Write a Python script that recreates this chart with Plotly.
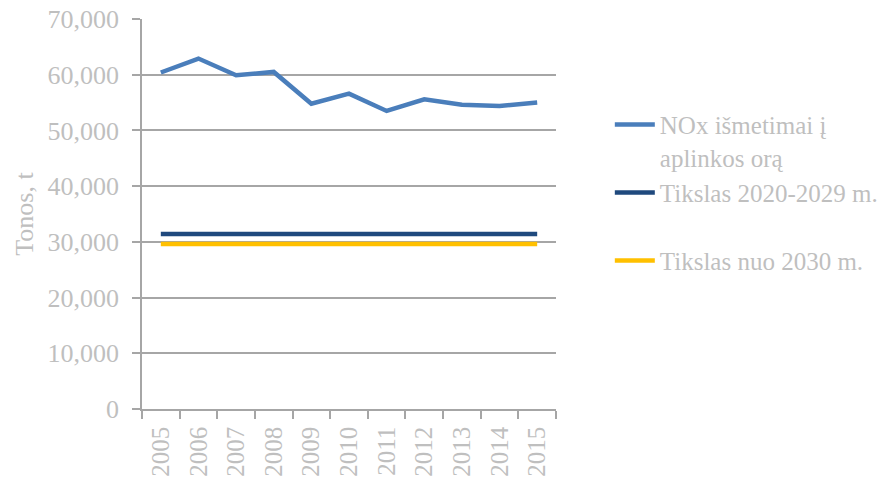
import plotly.graph_objects as go

years = ["2005", "2006", "2007", "2008", "2009", "2010", "2011", "2012", "2013", "2014", "2015"]
nox = [60400, 62900, 59900, 60500, 54800, 56600, 53500, 55600, 54600, 54400, 55000]
target_2020 = [31400] * len(years)
target_2030 = [29600] * len(years)
names = ["NOx išmetimai į<br>aplinkos orą", "Tikslas 2020-2029 m.<br> ", "Tikslas nuo 2030 m.<br> "]

FONT = "Liberation Serif, Times New Roman, serif"
GRAY = "#bfbfbf"
GRID = "#a6a6a6"

fig = go.Figure()
fig.add_trace(go.Scatter(x=years, y=nox, mode="lines", name=names[0],
                         line=dict(color="#4a7ebb", width=4.5)))
fig.add_trace(go.Scatter(x=years, y=target_2020, mode="lines", name=names[1],
                         line=dict(color="#1f497d", width=4.5)))
fig.add_trace(go.Scatter(x=years, y=target_2030, mode="lines", name=names[2],
                         line=dict(color="#ffc000", width=4.5)))

fig.update_layout(
    width=895, height=479,
    margin=dict(l=142, r=339, t=19, b=70, autoexpand=False),
    paper_bgcolor="white", plot_bgcolor="white",
    font=dict(family=FONT, color=GRAY, size=26),
    showlegend=True,
    legend=dict(x=1.130, y=0.788, xanchor="left", yanchor="top",
                font=dict(family=FONT, size=25, color=GRAY),
                valign="top", tracegroupgap=0, itemwidth=40,
                bgcolor="rgba(0,0,0,0)"),
)
fig.update_xaxes(
    type="category", range=[-0.5, 10.5], automargin=False,
    showline=True, linecolor=GRID, linewidth=1.5,
    ticks="outside", tickson="boundaries", ticklen=8, tickcolor=GRID, tickwidth=1.5,
    tickangle=-90, tickfont=dict(family=FONT, size=25, color=GRAY),
    ticklabelstandoff=6, ticklabeloverflow="allow",
    showgrid=False, zeroline=False,
)
fig.update_yaxes(
    range=[0, 70000], dtick=10000, tickformat=",", automargin=False,
    showline=True, linecolor=GRID, linewidth=1.5,
    ticks="outside", ticklen=8, tickcolor=GRID, tickwidth=1.5,
    showgrid=True, gridcolor=GRID, gridwidth=1.5, zeroline=False,
    tickfont=dict(family=FONT, size=26, color=GRAY),
    ticklabelstandoff=8, ticklabeloverflow="allow",
    title=dict(text="Tonos, t", font=dict(family=FONT, size=26, color=GRAY), standoff=6),
)

# remove the default 8px page margin so the 895x479 figure fills the window exactly
fig.write_html("out.html", config={"displayModeBar": False},
               post_script="document.body.style.margin='0';")
